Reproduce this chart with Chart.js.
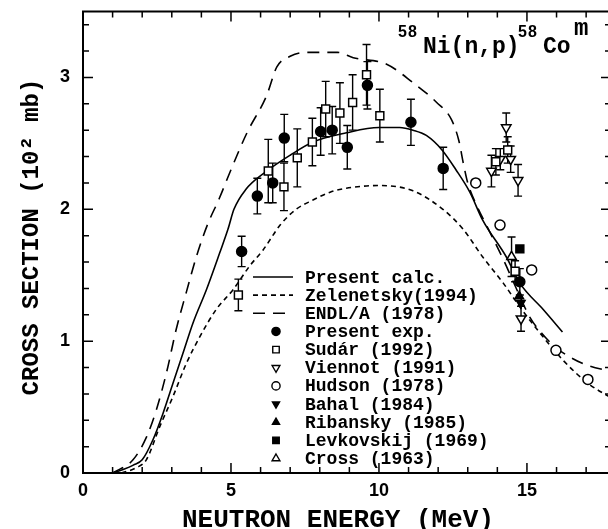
<!DOCTYPE html>
<html>
<head>
<meta charset="utf-8">
<script src="https://cdn.jsdelivr.net/npm/chart.js@4.4.1/dist/chart.umd.min.js"></script>
<style>
  html, body { margin: 0; padding: 0; background: #fff; overflow: hidden; }
  #xsChart { display: block; }
</style>
</head>
<body>
<canvas id="xsChart" width="611" height="529"></canvas>
<script>
// ---- data (energy in MeV, cross section in 10^2 mb) ----
const calcE  = [1.0, 1.4, 1.7, 2.0, 2.36, 2.7, 3.04, 3.38, 3.72, 4.17, 4.62, 4.9, 5.1, 5.5, 6.15, 7.0, 7.77, 8.9, 10.0, 10.7, 11.15, 11.6, 12.13, 12.6, 13.07, 13.5, 14.3, 14.76, 15.55, 16.2];
const calcXS = [0, 0.03, 0.06, 0.10, 0.25, 0.45, 0.68, 0.91, 1.14, 1.39, 1.67, 1.85, 2.0, 2.15, 2.28, 2.41, 2.51, 2.58, 2.62, 2.62, 2.60, 2.56, 2.45, 2.30, 2.13, 1.92, 1.64, 1.44, 1.24, 1.07];

const zelE  = [1.3, 1.8, 2.14, 2.59, 3.04, 3.49, 3.94, 4.5, 5.07, 5.63, 6.08, 6.66, 7.2, 7.77, 8.35, 8.9, 10.0, 11.15, 12.16, 12.84, 13.5, 14.2, 14.76, 15.34, 16.2, 17.06, 17.84];
const zelXS = [0, 0.04, 0.10, 0.35, 0.58, 0.83, 1.03, 1.24, 1.39, 1.57, 1.69, 1.88, 2.0, 2.07, 2.13, 2.16, 2.18, 2.14, 2.0, 1.85, 1.64, 1.44, 1.26, 1.09, 0.86, 0.68, 0.57];

const endlE  = [1.0, 1.69, 2.14, 2.48, 2.82, 3.15, 3.49, 3.83, 4.2, 4.6, 5.0, 5.54, 6.2, 6.55, 7.0, 7.5, 8.6, 9.13, 10.26, 11.15, 11.95, 12.45, 12.7, 12.85, 13.0, 13.3, 13.65, 14.2, 14.66, 15.1, 15.5, 15.98, 16.45, 17.0, 17.84];
const endlXS = [0, 0.10, 0.27, 0.48, 0.76, 1.09, 1.37, 1.64, 1.88, 2.08, 2.3, 2.58, 2.86, 3.08, 3.16, 3.19, 3.19, 3.15, 3.10, 2.96, 2.81, 2.68, 2.52, 2.35, 2.2, 2.03, 1.87, 1.62, 1.39, 1.18, 1.06, 0.95, 0.88, 0.82, 0.77];

const expE   = [5.36, 5.89, 6.41, 6.80, 8.03, 8.42, 8.93, 9.61, 11.08, 12.17, 14.76];
const expXS  = [1.68, 2.10, 2.20, 2.54, 2.59, 2.60, 2.47, 2.94, 2.66, 2.31, 1.45];
const expErr = [0.115, 0.135, 0.15, 0.18, 0.18, 0.18, 0.165, 0.18, 0.175, 0.16, 0.10];

const sudarE   = [5.25, 6.26, 6.79, 7.24, 7.75, 8.2, 8.68, 9.11, 9.58, 10.03, 13.95, 14.35, 14.6];
const sudarXS  = [1.35, 2.29, 2.17, 2.39, 2.51, 2.76, 2.73, 2.81, 3.02, 2.71, 2.36, 2.45, 1.53];
const sudarErr = [0.12, 0.24, 0.18, 0.22, 0.18, 0.21, 0.23, 0.21, 0.23, 0.20, 0.10, 0.10, 0.08];

const viennotE   = [13.8, 14.1, 14.3, 14.45, 14.7, 14.8];
const viennotXS  = [2.29, 2.38, 2.62, 2.38, 2.22, 1.17];
const viennotErr = [0.12, 0.08, 0.11, 0.10, 0.12, 0.095];

const hudsonE  = [13.27, 14.09, 15.16, 15.98, 17.06];
const hudsonXS = [2.20, 1.88, 1.54, 0.93, 0.71];

const bahalE = [14.79], bahalXS = [1.29];
const ribanskyE = [14.74], ribanskyXS = [1.34];
const levkovskijE = [14.76], levkovskijXS = [1.70];
const crossE = [14.48], crossXS = [1.64], crossErr = [0.15];

const xLabelTicks = [0, 5, 10, 15];
const yLabelTicks = [0, 1, 2, 3];

const MONO = '"Liberation Mono", "DejaVu Sans Mono", monospace';
const SANS = '"Liberation Sans", Arial, sans-serif';

function pts(xs, ys) {
  return xs.map((x, i) => ({x: x, y: ys[i]}));
}

function curve(label, xs, ys, dash) {
  return {
    label, data: pts(xs, ys), showLine: true, pointRadius: 0,
    borderColor: '#000', borderWidth: 1.6, borderDash: dash,
    cubicInterpolationMode: 'monotone', order: 1
  };
}

function marks(label, xs, ys, style, filled, radius, rotation, errors) {
  return {
    label, data: pts(xs, ys), showLine: false,
    pointStyle: style, pointRadius: radius, pointRotation: rotation || 0,
    pointBackgroundColor: filled ? '#000' : '#fff',
    pointBorderColor: '#000', pointBorderWidth: 1.5,
    errors: errors, filled: filled, order: 0
  };
}

const datasets = [
  curve('Present calc.', calcE, calcXS, []),
  curve('Zelenetsky(1994)', zelE, zelXS, [5, 4]),
  curve('ENDL/A (1978)', endlE, endlXS, [12, 8]),
  marks('Present exp.', expE, expXS, 'circle', true, 5, 0, expErr),
  marks('Sud\u00e1r (1992)', sudarE, sudarXS, 'rect', false, 5.6, 0, sudarErr),
  marks('Viennot (1991)', viennotE, viennotXS, 'triangle', false, 5.5, 180, viennotErr),
  marks('Hudson (1978)', hudsonE, hudsonXS, 'circle', false, 5, 0),
  marks('Bahal (1984)', bahalE, bahalXS, 'triangle', true, 5, 180),
  marks('Ribansky (1985)', ribanskyE, ribanskyXS, 'triangle', true, 5, 0),
  marks('Levkovskij (1969)', levkovskijE, levkovskijXS, 'rect', true, 5.6, 0),
  marks('Cross (1963)', crossE, crossXS, 'triangle', false, 5.5, 0, crossErr)
];

// keep the plot box fixed: no extra room for half tick labels
function noPad(s) {
  s.paddingTop = 0; s.paddingBottom = 0;
  s.paddingLeft = 0; s.paddingRight = 0;
}

// error bars, frame with inward ticks, legend and the labels
const decorPlugin = {
  id: 'decor',
  beforeDatasetsDraw(chart) {
    const ctx = chart.ctx, yS = chart.scales.y;
    ctx.save();
    ctx.strokeStyle = '#000';
    ctx.lineWidth = 1.4;
    chart.data.datasets.forEach((ds, i) => {
      if (!ds.errors) return;
      chart.getDatasetMeta(i).data.forEach((p, j) => {
        const e = ds.errors[j];
        const v = ds.data[j].y;
        const yt = yS.getPixelForValue(v + e), yb = yS.getPixelForValue(v - e);
        ctx.beginPath();
        ctx.moveTo(p.x, yt); ctx.lineTo(p.x, yb);
        ctx.moveTo(p.x - 4, yt); ctx.lineTo(p.x + 4, yt);
        ctx.moveTo(p.x - 4, yb); ctx.lineTo(p.x + 4, yb);
        ctx.stroke();
      });
    });
    ctx.restore();
  },
  afterDraw(chart) {
    const ctx = chart.ctx, a = chart.chartArea;
    const xS = chart.scales.x, yS = chart.scales.y;
    ctx.save();
    ctx.strokeStyle = '#000';
    ctx.fillStyle = '#000';

    // frame
    ctx.lineWidth = 2;
    ctx.strokeRect(a.left, a.top, a.right - a.left, a.bottom - a.top);

    // inward ticks on all four sides
    ctx.lineWidth = 1.5;
    ctx.beginPath();
    for (let e = 1; e < xS.max; e++) {
      const x = xS.getPixelForValue(e);
      const len = e % 5 === 0 ? 10 : 6;
      ctx.moveTo(x, a.bottom); ctx.lineTo(x, a.bottom - len);
      ctx.moveTo(x, a.top); ctx.lineTo(x, a.top + len);
    }
    for (let k = 1; k * 0.2 < yS.max; k++) {
      const y = yS.getPixelForValue(k * 0.2);
      const len = k % 5 === 0 ? 10 : 6;
      ctx.moveTo(a.left, y); ctx.lineTo(a.left + len, y);
      ctx.moveTo(a.right, y); ctx.lineTo(a.right - len, y);
    }
    ctx.stroke();

    // legend
    const lx = 253, tx = 305, y0 = 277, dy = 18.15;
    ctx.font = 'bold 18px ' + MONO;
    ctx.textAlign = 'left';
    ctx.textBaseline = 'middle';
    chart.data.datasets.forEach((ds, i) => {
      const y = y0 + i * dy;
      if (ds.showLine) {
        ctx.save();
        ctx.lineWidth = 1.6;
        ctx.setLineDash(ds.borderDash);
        ctx.beginPath();
        ctx.moveTo(lx, y); ctx.lineTo(lx + 40, y);
        ctx.stroke();
        ctx.restore();
      } else {
        ctx.save();
        ctx.fillStyle = ds.filled ? '#000' : '#fff';
        ctx.lineWidth = 1.4;
        Chart.helpers.drawPoint(ctx, {
          pointStyle: ds.pointStyle, rotation: ds.pointRotation,
          radius: ds.pointRadius * 0.82, borderWidth: 1.4
        }, lx + 23, y);
        ctx.restore();
      }
      ctx.fillText(ds.label, tx, y + 1);
    });

    // reaction label
    ctx.textBaseline = 'alphabetic';
    ctx.letterSpacing = '1px';
    ctx.font = 'bold 16px ' + SANS;
    ctx.fillText('58', 398, 37);
    ctx.fillText('58', 518, 37);
    ctx.letterSpacing = '0px';
    ctx.font = 'bold 23px ' + MONO;
    ctx.fillText('Ni(n,p)', 423, 53);
    ctx.fillText('Co', 543, 53);
    ctx.font = 'bold 24px ' + MONO;
    ctx.fillText('m', 574, 35);

    // axis titles
    ctx.textAlign = 'center';
    ctx.textBaseline = 'middle';
    ctx.font = 'bold 26px ' + MONO;
    ctx.fillText('NEUTRON ENERGY (MeV)', 338, 520);
    ctx.translate(32, 237);
    ctx.rotate(-Math.PI / 2);
    ctx.font = 'bold 24px ' + MONO;
    ctx.fillText('CROSS SECTION (10\u00b2 mb)', 0, 0);
    ctx.restore();
  }
};

new Chart(document.getElementById('xsChart'), {
  type: 'scatter',
  data: {datasets},
  options: {
    responsive: false,
    animation: false,
    devicePixelRatio: 1,
    layout: {autoPadding: false, padding: {top: 11.5, left: 0, right: 0, bottom: 0}},
    plugins: {legend: {display: false}, tooltip: {enabled: false}},
    scales: {
      x: {
        type: 'linear', min: 0, max: 17.84,
        afterFit: (s) => { s.height = 56; noPad(s); },
        afterBuildTicks: (s) => { s.ticks = xLabelTicks.map(v => ({value: v})); },
        grid: {display: false, drawTicks: false},
        border: {display: false},
        ticks: {padding: 7, color: '#000', font: {family: SANS, size: 18, weight: 'bold'}, maxRotation: 0}
      },
      y: {
        type: 'linear', min: 0, max: 3.5,
        afterFit: (s) => { s.width = 83; noPad(s); },
        afterBuildTicks: (s) => { s.ticks = yLabelTicks.map(v => ({value: v})); },
        grid: {display: false, drawTicks: false},
        border: {display: false},
        ticks: {padding: 13, color: '#000', font: {family: SANS, size: 18, weight: 'bold'}}
      }
    }
  },
  plugins: [decorPlugin]
});
</script>
</body>
</html>
